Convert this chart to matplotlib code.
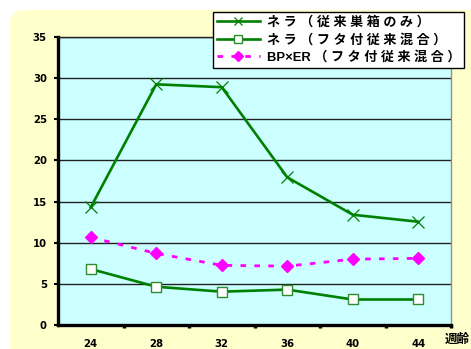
import matplotlib
matplotlib.use("Agg")
import matplotlib.pyplot as plt
from matplotlib.patches import FancyBboxPatch
from matplotlib.transforms import IdentityTransform

weeks = ["24", "28", "32", "36", "40", "44"]
nera_conv = [14.3, 29.25, 28.9, 17.95, 13.4, 12.55]
nera_lid = [6.8, 4.65, 4.05, 4.3, 3.1, 3.1]
bper_lid = [10.65, 8.7, 7.25, 7.15, 8.0, 8.1]
labels = ["ネ ラ （ 従 来 巣 箱 の み ）",
          "ネ ラ （ フ タ 付 従 来 混 合 ）",
          "BP×ER （ フ タ 付 従 来 混 合 ）"]
xlabel = "週齢"
yticks = [0, 5, 10, 15, 20, 25, 30, 35]

W, H = 471, 349
fig = plt.figure(figsize=(W / 100, H / 100), dpi=100, facecolor="white")

bg = FancyBboxPatch((10, -30), 520, (H - 10) + 30,
                    boxstyle="round,pad=0,rounding_size=14",
                    transform=IdentityTransform(), facecolor="#FFFFCC",
                    edgecolor="none", zorder=-10)
fig.patches.append(bg)

ax = fig.add_axes([58 / W, 1 - 325 / H, (451 - 58) / W, (325 - 37) / H])
ax.set_facecolor("#CCFFFF")

x = list(range(len(weeks)))
l1, = ax.plot(x, nera_conv, color="#008000", lw=1.9, marker="x", ms=8,
              mew=0.9, mec="#008000", label=labels[0], zorder=5)
l2, = ax.plot(x, nera_lid, color="#008000", lw=1.9, marker="s", ms=7.3,
              mfc="white", mec="#2E8B2E", mew=1.0, label=labels[1], zorder=5)
l3, = ax.plot(x, bper_lid, color="#FF00FF", lw=2.0, ls=(0, (2, 3)),
              marker="D", ms=6, mfc="#FF00FF", mec="#FF00FF",
              label=labels[2], zorder=5)

ax.set_xlim(-0.5, len(weeks) - 0.5)
ax.set_ylim(0, 35)
ax.set_yticks(yticks)
ax.set_xticks(x)
ax.set_xticklabels(weeks)
ax.set_xticks([i + 0.5 for i in x], minor=True)
ax.yaxis.grid(True, color="#222222", lw=1.0)
ax.set_axisbelow(True)

for t in ax.get_xticklabels() + ax.get_yticklabels():
    t.set_fontfamily(["DejaVu Sans"])
    t.set_fontweight("bold")
    t.set_fontsize(7.3)
ax.tick_params(axis="y", direction="out", length=3, width=1.5, pad=5)
ax.tick_params(axis="x", which="major", length=0, pad=10)
ax.tick_params(axis="x", which="minor", direction="out", length=2, width=2.5)

for s in ("left", "bottom"):
    ax.spines[s].set_linewidth(2.4)
    ax.spines[s].set_color("black")
ax.spines["top"].set_linewidth(1.0)
ax.spines["top"].set_color("#222222")
ax.spines["right"].set_linewidth(1.0)
ax.spines["right"].set_color("#909090")

fig.text(445 / W, 1 - 339 / H, xlabel, ha="left", va="center",
         fontsize=9, fontweight="bold", family=["Noto Sans CJK JP"])

leg = fig.legend(handles=[l1, l2, l3], loc="upper left",
                 bbox_to_anchor=(213 / W, 1 - 12 / H),
                 prop=dict(family=["Liberation Sans", "Noto Sans CJK JP"],
                           weight="bold", size=9.4),
                 frameon=True, fancybox=False, edgecolor="black",
                 facecolor="white", framealpha=1, handlelength=3.3,
                 handletextpad=0.5, borderpad=0.3, labelspacing=0.38,
                 borderaxespad=0, markerscale=0.8)
leg.get_frame().set_linewidth(1.0)

fig.savefig("out.png", dpi=100, facecolor="white")
